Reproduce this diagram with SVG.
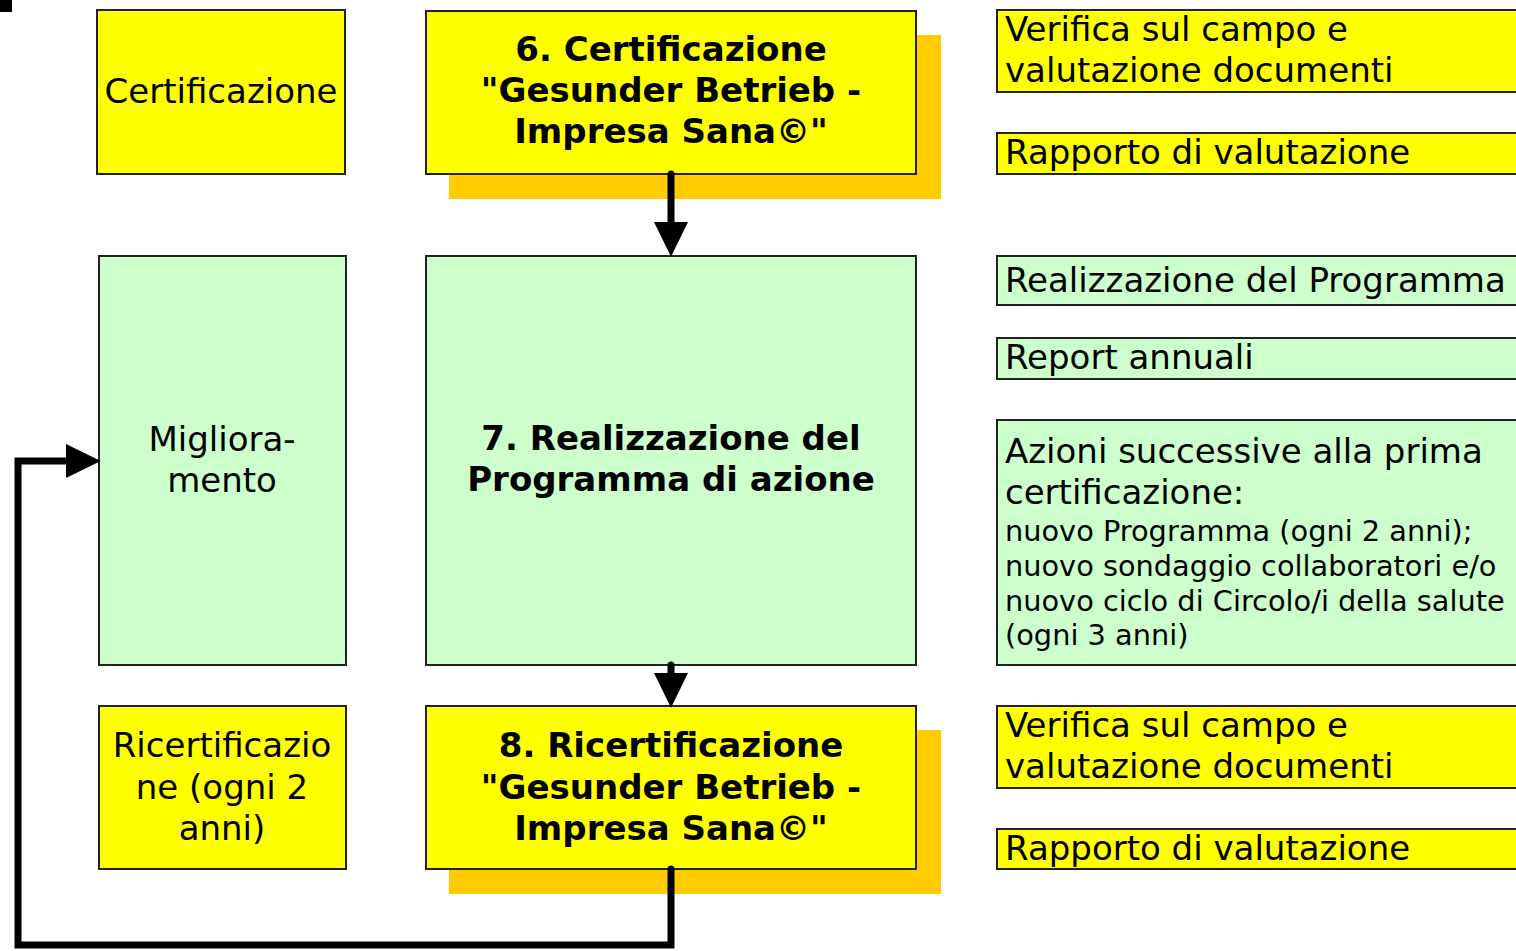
<svg xmlns="http://www.w3.org/2000/svg" width="1516" height="951" viewBox="0 0 1516 951">
<defs>
<style>
.y{fill:#FFFF00;stroke:#222;stroke-width:2}
.g{fill:#CCFFCC;stroke:#222;stroke-width:2}
.sh{fill:#FFCC00}
text{font-family:"DejaVu Sans","Verdana","Liberation Sans",sans-serif;fill:#000}
.t{font-size:34px}
.c{text-anchor:middle}
.b{font-weight:bold}
.s{font-size:28.8px}
.ln{fill:none;stroke:#000;stroke-width:7;stroke-linecap:round;stroke-linejoin:miter}
</style>
<marker id="ah" markerWidth="5" markerHeight="5" refX="0.3" refY="2.3" orient="auto" markerUnits="strokeWidth" viewBox="0 0 4.7 4.6">
<path d="M0,0 L4.7,2.3 L0,4.6 Z" fill="#000"/>
</marker>
</defs>
<rect x="0" y="0" width="12" height="12" fill="#000"/>

<g id="cert-label"><rect class="y" x="97" y="10" width="248" height="164"/><text class="t c" x="221" y="103">Certificazione</text></g>
<g id="step6"><rect class="sh" x="449" y="35" width="492" height="164"/><rect class="y" x="426" y="11" width="490" height="163"/>
<text class="t c b" x="671" y="61">6. Certificazione</text><text class="t c b" x="671" y="102">"Gesunder Betrieb -</text><text class="t c b" x="671" y="143">Impresa Sana©"</text></g>

<g id="migl-label"><rect class="g" x="99" y="256" width="247" height="409"/><text class="t c" x="222" y="451">Migliora-</text><text class="t c" x="222" y="492">mento</text></g>
<g id="step7"><rect class="g" x="426" y="256" width="490" height="409"/><text class="t c b" x="671" y="450">7. Realizzazione del</text><text class="t c b" x="671" y="491">Programma di azione</text></g>

<g id="ricert-label"><rect class="y" x="99" y="706" width="247" height="163"/><text class="t c" x="222" y="757">Ricertificazio</text><text class="t c" x="222" y="799">ne (ogni 2</text><text class="t c" x="222" y="840">anni)</text></g>
<g id="step8"><rect class="sh" x="449" y="730" width="492" height="164"/><rect class="y" x="426" y="706" width="490" height="163"/>
<text class="t c b" x="671" y="757">8. Ricertificazione</text><text class="t c b" x="671" y="799">"Gesunder Betrieb -</text><text class="t c b" x="671" y="840">Impresa Sana©"</text></g>

<g id="r1"><rect class="y" x="997" y="10" width="530" height="82"/><text class="t" x="1005" y="41">Verifica sul campo e</text><text class="t" x="1005" y="82">valutazione documenti</text></g>
<g id="r2"><rect class="y" x="997" y="133" width="530" height="41"/><text class="t" x="1005" y="164">Rapporto di valutazione</text></g>
<g id="r3"><rect class="g" x="997" y="256" width="530" height="49"/><text class="t" x="1005" y="292">Realizzazione del Programma</text></g>
<g id="r4"><rect class="g" x="997" y="338" width="530" height="41"/><text class="t" x="1005" y="369">Report annuali</text></g>
<g id="r5"><rect class="g" x="997" y="420" width="530" height="245"/><text class="t" x="1005" y="463">Azioni successive alla prima</text><text class="t" x="1005" y="504">certificazione:</text>
<text class="s" x="1005" y="541">nuovo Programma (ogni 2 anni);</text><text class="s" x="1005" y="576">nuovo sondaggio collaboratori e/o</text><text class="s" x="1005" y="611">nuovo ciclo di Circolo/i della salute</text><text class="s" x="1005" y="645">(ogni 3 anni)</text></g>
<g id="r6"><rect class="y" x="997" y="706" width="530" height="82"/><text class="t" x="1005" y="737">Verifica sul campo e</text><text class="t" x="1005" y="778">valutazione documenti</text></g>
<g id="r7"><rect class="y" x="997" y="829" width="530" height="40"/><text class="t" x="1005" y="860">Rapporto di valutazione</text></g>

<g id="connectors">
<path class="ln" d="M671,174 L671,224" marker-end="url(#ah)"/>
<path class="ln" d="M671,665 L671,675" marker-end="url(#ah)"/>
<path class="ln" d="M671,869 L671,945 L18,945 L18,461 L68,461" marker-end="url(#ah)"/>
</g>
</svg>
